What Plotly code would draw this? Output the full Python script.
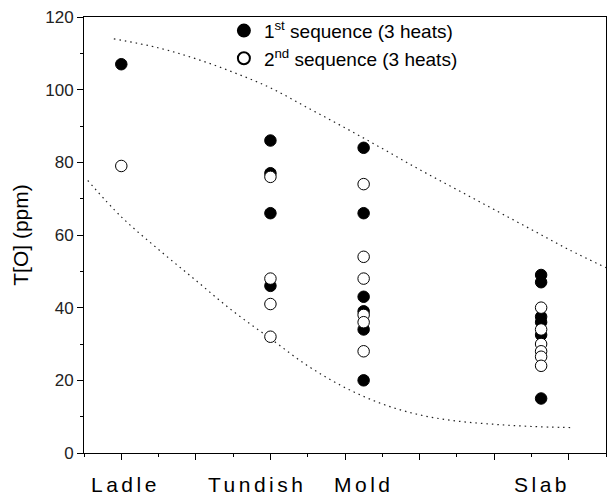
import plotly.graph_objects as go

# ---- data ----
stages = ["Ladle", "Tundish", "Mold", "Slab"]
stage_pos = [1.0, 3.0, 4.25, 6.63]
label_pos = [1.05, 2.82, 4.25, 6.64]

seq1_ladle = [107]
seq1_tundish = [86, 77, 66, 46]
seq1_mold = [84, 66, 43, 39, 34, 20]
seq1_slab = [49, 47, 37.5, 36, 32.5, 15]

seq2_ladle = [79]
seq2_tundish = [76, 48, 41, 32]
seq2_mold = [74, 54, 48, 38, 36, 28]
seq2_slab = [40, 34, 30, 28, 26.5, 24]

upper_x = [0.9, 1.5, 2.0, 2.5, 3.0, 3.5, 4.0, 4.5, 5.0, 5.5, 6.0, 6.5, 7.0, 7.5]
upper_y = [114, 111.5, 108.5, 104.8, 100.5, 95, 89.5, 83.8, 78, 72.5, 67, 61.5, 56, 51]
lower_x = [0.55, 1.0, 1.5, 2.0, 2.5, 3.0, 3.5, 4.0, 4.5, 5.0, 5.5, 6.0, 6.5, 7.05]
lower_y = [75, 65, 56, 47.5, 39, 31.5, 24, 18, 13.5, 10.5, 8.8, 7.9, 7.3, 7]

seq1_groups = [seq1_ladle, seq1_tundish, seq1_mold, seq1_slab]
seq2_groups = [seq2_ladle, seq2_tundish, seq2_mold, seq2_slab]


def flatten(groups):
    xs, ys = [], []
    for pos, vals in zip(stage_pos, groups):
        xs += [pos] * len(vals)
        ys += vals
    return xs, ys


fig = go.Figure()

dots = dict(color="#222222", width=1.2, dash="1.5px,4px", shape="spline")
fig.add_trace(go.Scatter(x=upper_x, y=upper_y, mode="lines", line=dots,
                         showlegend=False, hoverinfo="skip"))
fig.add_trace(go.Scatter(x=lower_x, y=lower_y, mode="lines", line=dots,
                         showlegend=False, hoverinfo="skip"))

x1, y1 = flatten(seq1_groups)
x2, y2 = flatten(seq2_groups)
fig.add_trace(go.Scatter(
    x=x1, y=y1, mode="markers", name="1<sup>st</sup> sequence (3 heats)",
    marker=dict(symbol="circle", size=11.5, color="black",
                line=dict(color="black", width=1))))
fig.add_trace(go.Scatter(
    x=x2, y=y2, mode="markers", name="2<sup>nd</sup> sequence (3 heats)",
    marker=dict(symbol="circle", size=11.5, color="white",
                line=dict(color="black", width=1))))

for name, pos in zip(stages, label_pos):
    fig.add_annotation(x=pos, y=-0.072, xref="x", yref="paper",
                       text='<span style="letter-spacing:3.5px">' + name + "</span>",
                       showarrow=False, yanchor="middle", xanchor="center",
                       font=dict(family="Liberation Sans, Arial", size=21, color="black"))

fig.update_layout(
    width=607, height=501,
    margin=dict(l=84, r=1, t=17, b=48),
    paper_bgcolor="white", plot_bgcolor="white",
    font=dict(family="Liberation Sans, Arial", color="black"),
    showlegend=True,
    legend=dict(x=0.268, y=1.012, xanchor="left", yanchor="top",
                bgcolor="rgba(0,0,0,0)", borderwidth=0,
                font=dict(size=19, color="black"), itemsizing="constant",
                tracegroupgap=0),
    xaxis=dict(range=[0.5, 7.5], tickmode="linear", tick0=1, dtick=1,
               showticklabels=False, ticks="outside", ticklen=6, tickwidth=1,
               tickcolor="black", showline=True, linecolor="black", linewidth=1,
               mirror=True, showgrid=False, zeroline=False,
               minor=dict(dtick=0.5, tick0=0.5, ticks="outside", ticklen=3,
                          tickcolor="black", showgrid=False)),
    yaxis=dict(range=[0, 120], tickmode="linear", tick0=0, dtick=20,
               ticks="outside", ticklen=6, tickwidth=1, tickcolor="black",
               showline=True, linecolor="black", linewidth=1, mirror=True,
               showgrid=False, zeroline=False,
               tickfont=dict(size=17, color="#222222"),
               title=dict(text="T[O] (ppm)", font=dict(size=21, color="black"),
                          standoff=10),
               minor=dict(dtick=10, ticks="outside", ticklen=3,
                          tickcolor="black", showgrid=False)),
)

fig.write_html("out.html")
